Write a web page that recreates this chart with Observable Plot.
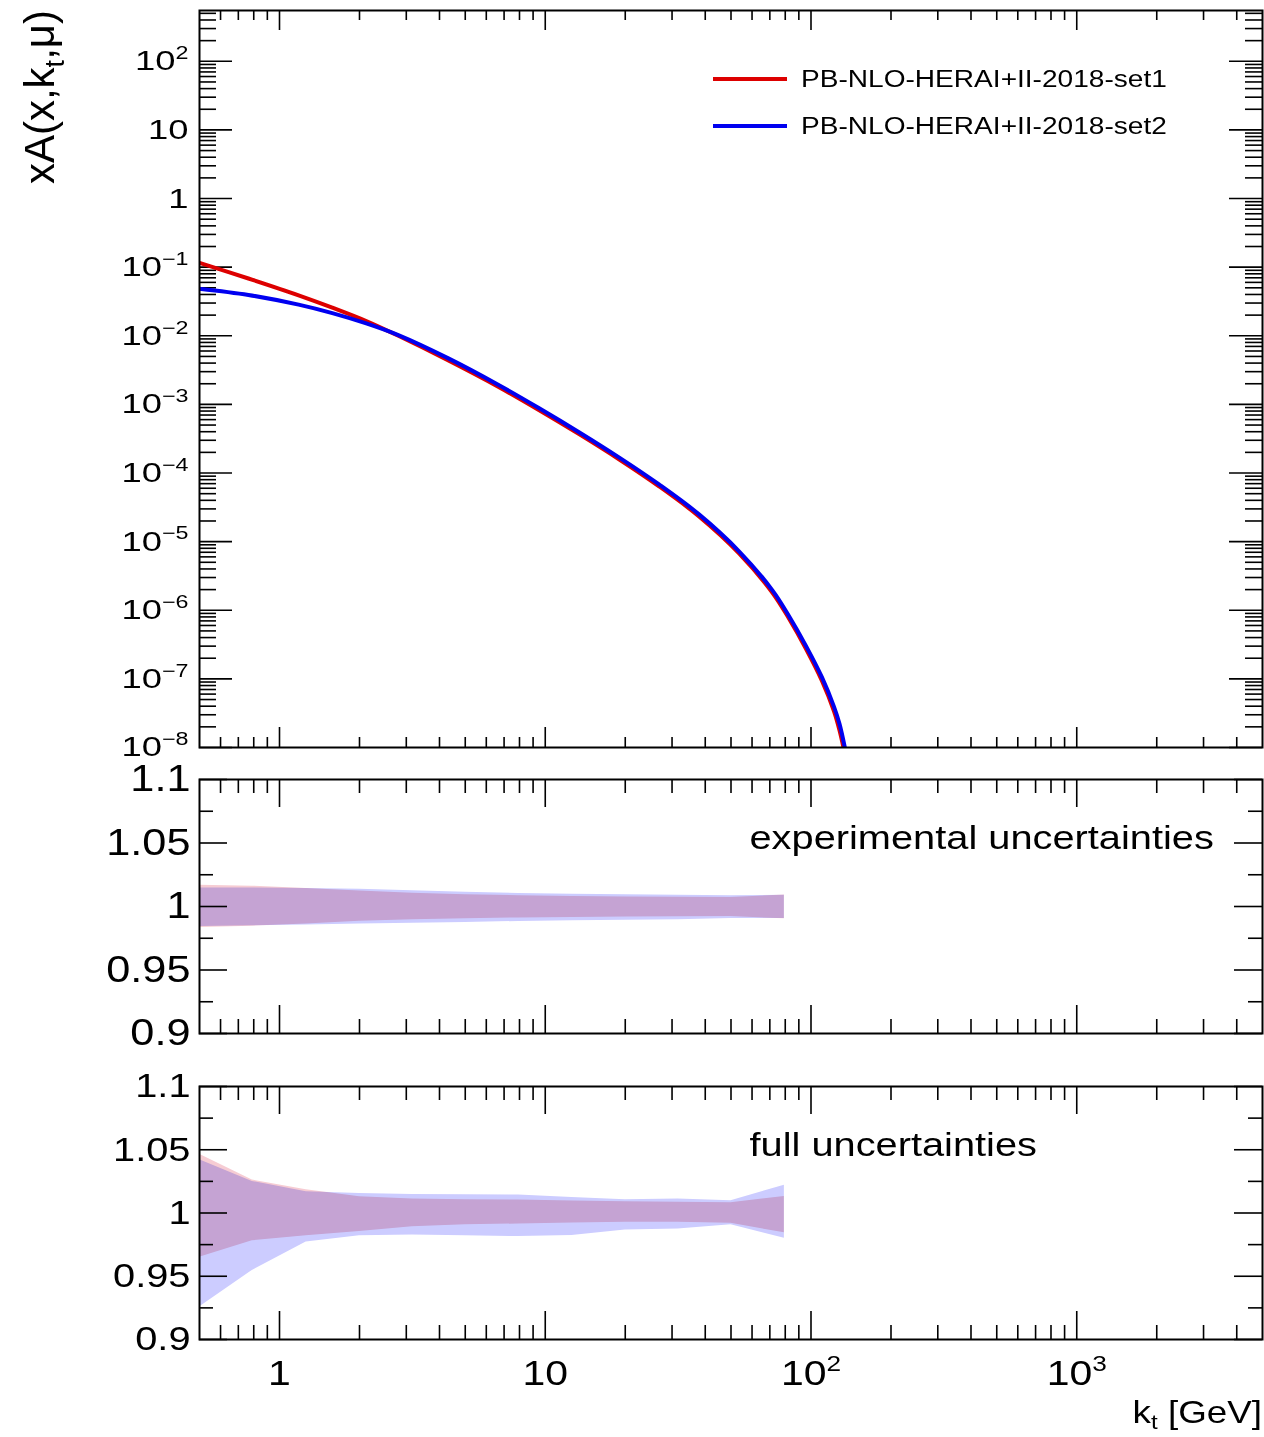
<!DOCTYPE html>
<html>
<head>
<meta charset="utf-8">
<script src="https://cdn.jsdelivr.net/npm/d3@7"></script>
<script src="https://cdn.jsdelivr.net/npm/@observablehq/plot@0.6"></script>
<style>
  html, body { margin: 0; padding: 0; background: #fff; }
  #chart { position: relative; width: 1264px; height: 1437px; overflow: hidden; font-family: "Liberation Sans", Arial, sans-serif; }
  #chart svg { position: absolute; left: 0; overflow: visible; }
</style>
</head>
<body>
<div id="chart"></div>
<script>
// ---------- data ----------
// transverse momentum of the TMD curve points (GeV)
const kt = [0.5, 0.764, 1.18, 1.58, 2.12, 2.8, 4.32, 6.65, 9.49, 13.4, 19, 26.8, 37.9, 53.6, 71.6, 82.6, 95.5, 110, 122, 128, 134];
// xA(x,kt,mu) for PB-NLO-HERAI+II-2018-set1 (red)
const set1 = [0.1156, 0.0684, 0.0389, 0.0257, 0.0164, 0.0100, 0.004365, 0.001811, 8.22e-4, 3.69e-4,
              1.574e-4, 6.40e-5, 2.333e-5, 6.76e-6, 1.80e-6, 7.59e-7, 2.79e-7, 9.33e-8, 3.39e-8, 1.78e-8, 8.13e-9];
// xA(x,kt,mu) for PB-NLO-HERAI+II-2018-set2 (blue)
const set2 = [0.04853, 0.03936, 0.02844, 0.02138, 0.01514, 0.01023, 0.004688, 0.001936, 8.79e-4, 3.936e-4,
              1.675e-4, 6.81e-5, 2.495e-5, 7.24e-6, 1.95e-6, 8.26e-7, 3.08e-7, 1.05e-7, 3.94e-8, 2.21e-8, 1.01e-8];

// kt nodes of the uncertainty bands (GeV)
const kBand = [0.5, 0.79, 1.26, 2, 3.16, 5, 7.94, 12.6, 20, 31.6, 50, 79.4];
// experimental uncertainties (ratio to central)
const expSet1Hi = [1.0168, 1.0160, 1.0142, 1.0122, 1.0105, 1.0093, 1.0085, 1.0079, 1.0075, 1.0073, 1.0071, 1.0090];
const expSet1Lo = [0.9835, 0.9845, 0.9863, 0.9883, 0.9896, 0.9904, 0.9910, 0.9914, 0.9917, 0.9919, 0.9921, 0.9903];
const expSet2Hi = [1.0145, 1.0145, 1.0142, 1.0136, 1.0124, 1.0113, 1.0102, 1.0096, 1.0092, 1.0089, 1.0084, 1.0088];
const expSet2Lo = [0.9843, 0.9848, 0.9855, 0.9862, 0.9869, 0.9875, 0.9882, 0.9887, 0.9891, 0.9895, 0.9906, 0.9906];
// full uncertainties (ratio to central)
const fullSet1Hi = [1.0465, 1.0260, 1.0184, 1.0129, 1.0110, 1.0105, 1.0102, 1.0094, 1.0089, 1.0084, 1.0082, 1.0131];
const fullSet1Lo = [0.9650, 0.9780, 0.9820, 0.9853, 0.9892, 0.9908, 0.9913, 0.9921, 0.9927, 0.9927, 0.9919, 0.9843];
const fullSet2Hi = [1.0420, 1.0250, 1.0168, 1.0155, 1.0147, 1.0145, 1.0142, 1.0123, 1.0105, 1.0110, 1.0097, 1.0220];
const fullSet2Lo = [0.9257, 0.9546, 0.9770, 0.9820, 0.9827, 0.9820, 0.9814, 0.9822, 0.9866, 0.9874, 0.9908, 0.9800];

// series names and panel texts
const seriesNames = ["PB-NLO-HERAI+II-2018-set1", "PB-NLO-HERAI+II-2018-set2"];
const panelTitles = ["experimental uncertainties", "full uncertainties"];

// axis ticks and labels
const xDomain = [0.5, 5000];
const xMajor = [1, 10, 100, 1000];
const xMajorLabels = ["1", "10", "10²", "10³"];
const yTopDomain = [1e-8, 550];
const yTopMajor = [1e2, 1e1, 1, 1e-1, 1e-2, 1e-3, 1e-4, 1e-5, 1e-6, 1e-7, 1e-8];
const yTopLabels = ["10²", "10", "1", "10⁻¹", "10⁻²", "10⁻³", "10⁻⁴", "10⁻⁵", "10⁻⁶", "10⁻⁷", "10⁻⁸"];
const yRatioDomain = [0.9, 1.1];
const yRatioMajor = [0.9, 0.95, 1, 1.05, 1.1];
const yRatioLabels = ["0.9", "0.95", "1", "1.05", "1.1"];
const yRatioMinor = [0.925, 0.975, 1.025, 1.075];

// ---------- helpers ----------
const RED = "#dd0000", BLUE = "#0000f0";
const BAND_RED = "#f6ccd3", BAND_BLUE = "#ccccff";
const FONT = "'Liberation Sans', Arial, Helvetica, sans-serif";
const W = 1264, ML = 199, MR = 2;
const FW = W - ML - MR;

// minor log ticks (2..9 within each decade) inside a domain
function logMinors(lo, hi) {
  const out = [];
  for (let e = Math.floor(Math.log10(lo)); e <= Math.ceil(Math.log10(hi)); e++) {
    for (let m = 2; m <= 9; m++) {
      const v = m * Math.pow(10, e);
      if (v > lo && v < hi) out.push(v);
    }
  }
  return out;
}
const xMinor = logMinors(xDomain[0], xDomain[1]);
const yTopMinor = logMinors(yTopDomain[0], yTopDomain[1]);

const tickStyle = {stroke: "black", strokeWidth: 1.6};
function xTicks(H, majL, minL) {
  return [
    Plot.tickX(xMajor, {x: d => d, insetTop: H - majL, ...tickStyle}),
    Plot.tickX(xMajor, {x: d => d, insetBottom: H - majL, ...tickStyle}),
    Plot.tickX(xMinor, {x: d => d, insetTop: H - minL, ...tickStyle}),
    Plot.tickX(xMinor, {x: d => d, insetBottom: H - minL, ...tickStyle})
  ];
}
function yTicks(values, len) {
  return [
    Plot.tickY(values, {y: d => d, insetRight: FW - len, ...tickStyle}),
    Plot.tickY(values, {y: d => d, insetLeft: FW - len, ...tickStyle})
  ];
}
// ROOT-like wide lettering
function stretchText(svg, sx) {
  svg.querySelectorAll("text").forEach(el => {
    const t = el.getAttribute("transform") || "";
    el.setAttribute("transform", `${t} scale(${sx},1)`);
  });
}
// turn "10⁻¹"-style labels into a base plus a raised exponent
const SUP = {"⁻": "−", "⁰": "0", "¹": "1", "²": "2", "³": "3", "⁴": "4", "⁵": "5", "⁶": "6", "⁷": "7", "⁸": "8", "⁹": "9"};
function superscripts(svg) {
  svg.querySelectorAll("text").forEach(el => {
    const m = /^10([⁻⁰¹²³⁴⁵⁶⁷⁸⁹]+)$/.exec(el.textContent);
    if (!m) return;
    const exp = [...m[1]].map(c => SUP[c]).join("");
    const s = d3.select(el);
    s.selectAll("*").remove();
    s.text(null);
    s.append("tspan").text("10");
    s.append("tspan").attr("font-size", "0.64em").attr("dy", "-0.62em").text(exp);
  });
}
const svgStyle = {fontFamily: FONT, background: "transparent", overflow: "visible", color: "black"};

const root = document.getElementById("chart");

// ---------- top panel ----------
const curveRows = kt.map((k, i) => ({k, s1: set1[i], s2: set2[i]}));
const topH = 760, topMT = 10, topMB = 13;
const topFH = topH - topMT - topMB;
const topLabel = new Map(yTopMajor.map((v, i) => [v, yTopLabels[i]]));
const topPlot = Plot.plot({
  width: W, height: topH, marginLeft: ML, marginRight: MR, marginTop: topMT, marginBottom: topMB,
  style: svgStyle,
  x: {type: "log", domain: xDomain, axis: null},
  y: {type: "log", domain: yTopDomain},
  marks: [
    Plot.axisY(yTopMajor, {tickFormat: d => topLabel.get(d), tickSize: 0, tickPadding: 11, fontSize: 28, label: null}),
    ...xTicks(topFH, 20, 10),
    ...yTicks(yTopMajor, 33),
    ...yTicks(yTopMinor, 17),
    Plot.line(curveRows, {x: "k", y: "s1", stroke: RED, strokeWidth: 4, curve: "catmull-rom", clip: true}),
    Plot.line(curveRows, {x: "k", y: "s2", stroke: BLUE, strokeWidth: 4, curve: "catmull-rom", clip: true}),
    Plot.frame({stroke: "black", strokeWidth: 2})
  ]
});
topPlot.style.top = "0px";
superscripts(topPlot);
stretchText(topPlot, 1.3);
{
  const s = d3.select(topPlot);
  // y-axis title
  const t = s.append("text").attr("transform", "translate(54,10) rotate(-90)")
    .attr("text-anchor", "end").attr("font-size", 42).attr("fill", "black");
  t.append("tspan").text("xA(x,k");
  t.append("tspan").attr("font-size", 27).attr("dy", 10).text("t");
  t.append("tspan").attr("dy", -10).text(",μ)");
  // legend
  const legY = [79, 126], legC = [RED, BLUE];
  seriesNames.forEach((name, i) => {
    s.append("line").attr("x1", 713).attr("x2", 787).attr("y1", legY[i]).attr("y2", legY[i])
      .attr("stroke", legC[i]).attr("stroke-width", 4);
    s.append("text").attr("transform", `translate(801,${legY[i]}) scale(1.17,1)`)
      .attr("text-anchor", "start").attr("dy", "0.35em").attr("font-size", 24).attr("fill", "black").text(name);
  });
}
root.appendChild(topPlot);

// ---------- ratio panels ----------
function bandRows(lo, hi) { return kBand.map((k, i) => ({k, lo: lo[i], hi: hi[i]})); }
const ratioLabel = new Map(yRatioMajor.map((v, i) => [v, yRatioLabels[i]]));

function ratioPanel({height, marginTop, marginBottom, s1Lo, s1Hi, s2Lo, s2Hi, title, yFont, xAxis}) {
  const FH = height - marginTop - marginBottom;
  const marks = [
    Plot.areaY(bandRows(s2Lo, s2Hi), {x: "k", y1: "lo", y2: "hi", fill: BAND_BLUE, mixBlendMode: "multiply"}),
    Plot.areaY(bandRows(s1Lo, s1Hi), {x: "k", y1: "lo", y2: "hi", fill: BAND_RED, mixBlendMode: "multiply"}),
    Plot.axisY(yRatioMajor, {tickFormat: d => ratioLabel.get(d), tickSize: 0, tickPadding: 9, fontSize: yFont, label: null}),
    ...xTicks(FH, 28, 14),
    ...yTicks(yRatioMajor, 28),
    ...yTicks(yRatioMinor, 14),
    Plot.text([title], {frameAnchor: "top-left", dx: 550, dy: 59, textAnchor: "start", lineAnchor: "middle", fontSize: 34, fill: "black"}),
    Plot.frame({stroke: "black", strokeWidth: 2})
  ];
  const xLabel = new Map(xMajor.map((v, i) => [v, xMajorLabels[i]]));
  if (xAxis) marks.push(Plot.axisX(xMajor, {tickFormat: d => xLabel.get(d), tickSize: 0, tickPadding: 21, fontSize: 35, label: null}));
  const xOpts = {type: "log", domain: xDomain};
  if (!xAxis) xOpts.axis = null;
  return Plot.plot({
    width: W, height, marginLeft: ML, marginRight: MR, marginTop, marginBottom,
    style: svgStyle,
    x: xOpts,
    y: {domain: yRatioDomain},
    marks
  });
}

const midPlot = ratioPanel({height: 290, marginTop: 19, marginBottom: 17,
  s1Lo: expSet1Lo, s1Hi: expSet1Hi, s2Lo: expSet2Lo, s2Hi: expSet2Hi,
  title: panelTitles[0], yFont: 37, xAxis: false});
midPlot.style.top = "760px";
stretchText(midPlot, 1.17);
root.appendChild(midPlot);

const botPlot = ratioPanel({height: 387, marginTop: 36, marginBottom: 98,
  s1Lo: fullSet1Lo, s1Hi: fullSet1Hi, s2Lo: fullSet2Lo, s2Hi: fullSet2Hi,
  title: panelTitles[1], yFont: 34, xAxis: true});
botPlot.style.top = "1050px";
superscripts(botPlot);
stretchText(botPlot, 1.17);
{
  const s = d3.select(botPlot);
  const t = s.append("text").attr("transform", "translate(1262,373) scale(1.15,1)")
    .attr("text-anchor", "end").attr("font-size", 32).attr("fill", "black");
  t.append("tspan").text("k");
  t.append("tspan").attr("font-size", 21).attr("dy", 6).text("t");
  t.append("tspan").attr("dy", -6).text("\u00a0[GeV]");
}
root.appendChild(botPlot);
</script>
</body>
</html>
